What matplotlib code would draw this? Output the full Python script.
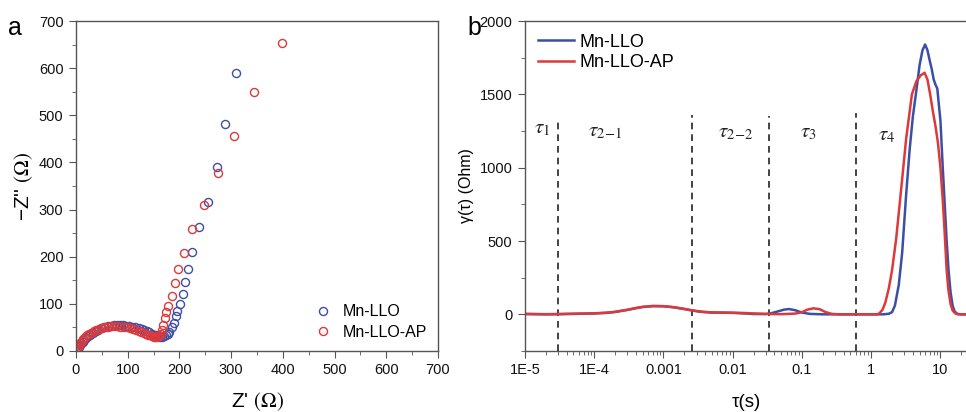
import numpy as np
import matplotlib.pyplot as plt
from matplotlib.ticker import MultipleLocator, FixedLocator, FixedFormatter, LogLocator, NullFormatter

plt.rcParams['font.family'] = ['Liberation Sans', 'DejaVu Sans']
plt.rcParams['mathtext.fontset'] = 'stix'

BLUE = '#3c4fa6'
RED = '#dc3a3a'
SPINE = '#555555'

# ---- Nyquist data (panel a) ----
zre_llo = [0, 1, 3, 5, 7, 10, 13, 16, 20, 24, 28, 33, 38, 43, 49, 55, 61, 67, 73, 79,
           85, 91, 97, 103, 109, 115, 121, 127, 132, 137, 142, 146, 150, 154, 158, 162,
           166, 170, 174, 177, 180, 185, 189, 193, 195, 202, 207, 211, 217, 225, 237,
           256, 272, 289, 310]
zim_llo = [0, 1, 4, 8, 12, 16, 20, 24, 28, 32, 35, 39, 42, 45, 48, 50, 52, 53.5, 54.5, 55,
           55, 54.5, 54, 53, 51.5, 50, 48, 46, 44, 42, 39.5, 37, 35, 33, 31, 30,
           29.5, 31, 34, 37, 41, 50, 60, 74, 85, 100, 121, 147, 175, 209, 262,
           316, 391, 481, 590]

zre_ap = [0, 1, 2, 4, 6, 8, 11, 14, 17, 21, 25, 29, 34, 39, 44, 50, 56, 62, 68, 74,
          80, 86, 92, 98, 104, 110, 116, 121, 126, 131, 135, 139, 143, 147, 150, 153,
          156, 159, 161, 164, 166, 169, 173, 174, 178, 186, 191, 198, 209, 225, 247,
          274, 305, 345, 399]
zim_ap = [0, 2, 5, 9, 13, 17, 21, 25, 29, 33, 36, 39, 42, 45, 47, 49, 50.5, 51.5, 52, 52,
          52, 51.5, 51, 50, 48.5, 47, 45, 43, 41, 39, 37, 35, 33, 31, 30, 29,
          30, 32, 34, 36, 45, 55, 69, 82, 96, 117, 145, 173, 207, 258, 309,
          377, 457, 550, 654]

# ---- DRT data (panel b) ----
tau_llo = [1e-5, 2e-5, 3e-5, 5e-5, 1e-4, 1.5e-4, 2e-4, 3e-4, 4e-4, 5e-4, 7e-4, 1e-3,
           1.4e-3, 2e-3, 2.6e-3, 3.5e-3, 5e-3, 7e-3, 1e-2, 1.5e-2, 2e-2, 3e-2, 3.5e-2,
           4.5e-2, 5.5e-2, 6.5e-2, 8e-2, 0.1, 0.13, 0.2, 0.5, 1, 1.5, 1.8, 2.0, 2.2,
           2.5, 2.8, 3.2, 3.6, 4.0, 4.5, 5.0, 5.5, 6.0, 6.5, 7.0, 7.5, 8.0, 8.5, 9.0,
           10.0, 10.8, 11.5, 12.3, 13.1, 14, 15, 16, 17.5, 20, 25]
gam_llo = [2, 0, 1, 3, 6, 10, 16, 30, 42, 50, 56, 55,
           48, 36, 26, 17, 12, 11, 10, 6, 2, 2, 6,
           20, 32, 36, 28, 12, 3, 0, 0, 0, 0, 4, 15, 60,
           200, 420, 820, 1130, 1350, 1530, 1700, 1800, 1840, 1800, 1730, 1670, 1600, 1565, 1540,
           1320, 1000, 760, 500, 300, 150, 60, 20, 3, 0, 0]

tau_ap = [1e-5, 2e-5, 3e-5, 5e-5, 1e-4, 1.5e-4, 2e-4, 3e-4, 4e-4, 5e-4, 7e-4, 1e-3,
          1.4e-3, 2e-3, 2.6e-3, 3.5e-3, 5e-3, 7e-3, 1e-2, 1.5e-2, 2e-2, 3e-2, 5e-2,
          8e-2, 0.1, 0.12, 0.147, 0.18, 0.22, 0.27, 0.35, 1, 1.2, 1.3, 1.45, 1.6, 1.8,
          2.0, 2.3, 2.77, 3.2, 3.87, 4.5, 5.2, 5.9, 6.5, 7.1, 7.8, 8.5, 9.2, 10.0,
          10.8, 11.5, 12.3, 13, 14, 15, 16.5, 18, 25]
gam_ap = [3, 1, 2, 4, 7, 11, 17, 31, 43, 51, 57, 56,
          49, 37, 27, 18, 13, 12, 11, 9, 6, 3, 1,
          5, 15, 32, 41, 35, 15, 3, 0, 0, 0, 5, 30, 80, 180,
          300, 520, 900, 1200, 1500, 1590, 1630, 1647, 1600, 1500, 1380, 1280, 1170, 1000,
          780, 560, 300, 170, 70, 25, 5, 0, 0]

boundaries = [3.03e-5, 2.6e-3, 0.0332, 0.6]
boundary_tops = [1310, 1360, 1350, 1375]
region_labels = [r'$\tau_1$', r'$\tau_{2\!-\!1}$', r'$\tau_{2\!-\!2}$', r'$\tau_3$', r'$\tau_4$']
region_x = [1.75e-5, 1.45e-4, 1.1e-2, 0.125, 1.7]
region_y = [1270, 1250, 1240, 1240, 1220]

fig = plt.figure(figsize=(9.66, 4.12), dpi=100)

# ---------------- panel a ----------------
ax1 = fig.add_axes([76 / 966, 61 / 412, 362 / 966, 330 / 412])
ax1.plot(zre_llo, zim_llo, 'o', ms=5.8, mfc='none', mec=BLUE, mew=1.0, label='Mn-LLO')
ax1.plot(zre_ap, zim_ap, 'o', ms=5.8, mfc='none', mec=RED, mew=1.0, label='Mn-LLO-AP')
ax1.set_xlim(0, 700)
ax1.set_ylim(0, 700)
ax1.xaxis.set_major_locator(MultipleLocator(100))
ax1.xaxis.set_minor_locator(MultipleLocator(50))
ax1.yaxis.set_major_locator(MultipleLocator(100))
ax1.yaxis.set_minor_locator(MultipleLocator(50))
ax1.set_xlabel(r"Z' $(\Omega)$", fontsize=15, labelpad=9)
ax1.set_ylabel("\u2212Z'' " + r"$(\Omega)$", fontsize=15, labelpad=3)
ax1.legend(loc='lower right', frameon=False, fontsize=11.5, handletextpad=0.6,
           borderaxespad=0.3, labelspacing=0.35, handlelength=1.2)

# ---------------- panel b ----------------
ax2 = fig.add_axes([525 / 966, 61 / 412, 443 / 966, 330 / 412])
ax2.set_xscale('log')
for xb, top in zip(boundaries, boundary_tops):
    ax2.plot([xb, xb], [-250, top], color='#222222', lw=1.2, ls=(0, (4, 3)))
ax2.plot(tau_llo, gam_llo, color=BLUE, lw=1.8, label='Mn-LLO')
ax2.plot(tau_ap, gam_ap, color=RED, lw=1.8, label='Mn-LLO-AP')
for lab, xl, yl in zip(region_labels, region_x, region_y):
    ax2.text(xl, yl, lab, fontsize=15, ha='center', va='center', color='#222222')
ax2.set_xlim(1e-5, 25)
ax2.set_ylim(-250, 2000)
ax2.yaxis.set_major_locator(MultipleLocator(500))
ax2.yaxis.set_minor_locator(MultipleLocator(250))
ax2.xaxis.set_major_locator(FixedLocator([1e-5, 1e-4, 1e-3, 1e-2, 0.1, 1, 10]))
ax2.xaxis.set_major_formatter(FixedFormatter(['1E-5', '1E-4', '0.001', '0.01', '0.1', '1', '10']))
ax2.xaxis.set_minor_locator(LogLocator(base=10, subs=np.arange(2, 10), numticks=20))
ax2.xaxis.set_minor_formatter(NullFormatter())
ax2.set_xlabel('τ(s)', fontsize=13.5, labelpad=12)
ax2.set_ylabel('γ(τ) (Ohm)', fontsize=11.5, labelpad=4)
ax2.legend(loc='upper left', frameon=False, fontsize=13, handletextpad=0.3,
           borderaxespad=0.3, labelspacing=0.2, handlelength=2.0)

for ax in (ax1, ax2):
    for sp in ax.spines.values():
        sp.set_color(SPINE)
        sp.set_linewidth(1.0)
    ax.tick_params(which='both', direction='out', colors=SPINE, labelcolor='#111111',
                   top=False, right=False)
    ax.tick_params(which='major', length=5, labelsize=10.5, pad=4)
    ax.tick_params(which='minor', length=3)

fig.text(15 / 966, 1 - 28 / 412, 'a', fontsize=18, ha='center', va='center')
fig.text(474 / 966, 1 - 28 / 412, 'b', fontsize=18, ha='center', va='center')

fig.savefig('out.png', dpi=100)
